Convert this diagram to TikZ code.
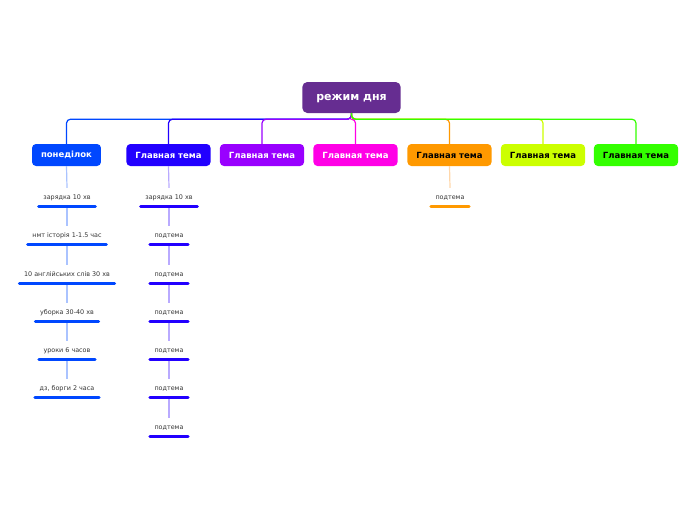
\documentclass[tikz,border=0pt]{standalone}
\usepackage{fontspec}
\setmainfont{DejaVu Sans}
\definecolor{rootcol}{RGB}{102,45,145}
\definecolor{cone}{RGB}{0,71,255}
\definecolor{ctwo}{RGB}{34,0,255}
\definecolor{cthree}{RGB}{153,0,255}
\definecolor{cfour}{RGB}{255,0,230}
\definecolor{cfive}{RGB}{255,153,0}
\definecolor{csix}{RGB}{204,255,0}
\definecolor{cseven}{RGB}{51,255,0}
\definecolor{lone}{RGB}{170,195,255}
\definecolor{ltwo}{RGB}{185,170,255}
\definecolor{lfive}{RGB}{255,215,170}
\begin{document}
\begin{tikzpicture}[x=1pt, y=-1pt,
    topic/.style={rounded corners=4pt, minimum height=22pt, inner xsep=9pt, font=\bfseries\fontsize{8.5}{10}\selectfont},
    sub/.style={minimum height=18pt, inner xsep=6pt, inner ysep=0pt, text height=5pt, text depth=0pt,
                font=\fontsize{6.4}{7}\selectfont, text=black!80},
    link/.style={line width=1.2pt, rounded corners=4pt},
    stem/.style={line width=1.2pt},
    bar/.style={line width=3pt, line cap=round}]
    \useasboundingbox (0,0) rectangle (696,520);

    % Central topic
    \node[fill=rootcol, text=white, rounded corners=5pt, minimum height=31pt, inner xsep=14pt,
          text height=5.5pt, text depth=0pt,
          font=\bfseries\fontsize{11}{13}\selectfont] (root) at (351.5,97.5) {режим дня};

    % Main topics
    \node[topic, fill=cone, text=white] (t1) at (66.5,155) {понеділок};
    \node[topic, fill=ctwo, text=white] (t2) at (168.5,155) {Главная тема};
    \node[topic, fill=cthree, text=white] (t3) at (262,155) {Главная тема};
    \node[topic, fill=cfour, text=white] (t4) at (355.5,155) {Главная тема};
    \node[topic, fill=cfive, text=black] (t5) at (449.5,155) {Главная тема};
    \node[topic, fill=csix, text=black] (t6) at (543,155) {Главная тема};
    \node[topic, fill=cseven, text=black] (t7) at (636,155) {Главная тема};

    % Connectors from the central topic
    \draw[link, cone] (root.south) -- ++(0,6) -| (t1.north);
    \draw[link, ctwo] (root.south) -- ++(0,6) -| (t2.north);
    \draw[link, cthree] (root.south) -- ++(0,6) -| (t3.north);
    \draw[link, cfour] (root.south) -- ++(0,6) -| (t4.north);
    \draw[link, cfive] (root.south) -- ++(0,6) -| (t5.north);
    \draw[link, csix] (root.south) -- ++(0,6) -| (t6.north);
    \draw[link, cseven] (root.south) -- ++(0,6) -| (t7.north);

    % Subtopics of понеділок
    \node[sub] (s11) at (67,197) {зарядка 10 хв};
    \node[sub] (s12) at (67,235) {нмт історія 1-1.5 час};
    \node[sub] (s13) at (67,274) {10 англійських слів 30 хв};
    \node[sub] (s14) at (67,312) {уборка 30-40 хв};
    \node[sub] (s15) at (67,350) {уроки 6 часов};
    \node[sub] (s16) at (67,388) {дз, борги 2 часа};

    \draw[stem, lone] (t1.south) -- (s11.north);
    \draw[stem, lone] (s11.south) -- (s12.north);
    \draw[stem, lone] (s12.south) -- (s13.north);
    \draw[stem, lone] (s13.south) -- (s14.north);
    \draw[stem, lone] (s14.south) -- (s15.north);
    \draw[stem, lone] (s15.south) -- (s16.north);

    \draw[bar, cone] ([xshift=1.5pt]s11.south west) -- ([xshift=-1.5pt]s11.south east);
    \draw[bar, cone] ([xshift=1.5pt]s12.south west) -- ([xshift=-1.5pt]s12.south east);
    \draw[bar, cone] ([xshift=1.5pt]s13.south west) -- ([xshift=-1.5pt]s13.south east);
    \draw[bar, cone] ([xshift=1.5pt]s14.south west) -- ([xshift=-1.5pt]s14.south east);
    \draw[bar, cone] ([xshift=1.5pt]s15.south west) -- ([xshift=-1.5pt]s15.south east);
    \draw[bar, cone] ([xshift=1.5pt]s16.south west) -- ([xshift=-1.5pt]s16.south east);

    % Subtopics of the second topic
    \node[sub] (s21) at (169,197) {зарядка 10 хв};
    \node[sub] (s22) at (169,235) {подтема};
    \node[sub] (s23) at (169,274) {подтема};
    \node[sub] (s24) at (169,312) {подтема};
    \node[sub] (s25) at (169,350) {подтема};
    \node[sub] (s26) at (169,388) {подтема};
    \node[sub] (s27) at (169,427) {подтема};

    \draw[stem, ltwo] (t2.south) -- (s21.north);
    \draw[stem, ltwo] (s21.south) -- (s22.north);
    \draw[stem, ltwo] (s22.south) -- (s23.north);
    \draw[stem, ltwo] (s23.south) -- (s24.north);
    \draw[stem, ltwo] (s24.south) -- (s25.north);
    \draw[stem, ltwo] (s25.south) -- (s26.north);
    \draw[stem, ltwo] (s26.south) -- (s27.north);

    \draw[bar, ctwo] ([xshift=1.5pt]s21.south west) -- ([xshift=-1.5pt]s21.south east);
    \draw[bar, ctwo] ([xshift=1.5pt]s22.south west) -- ([xshift=-1.5pt]s22.south east);
    \draw[bar, ctwo] ([xshift=1.5pt]s23.south west) -- ([xshift=-1.5pt]s23.south east);
    \draw[bar, ctwo] ([xshift=1.5pt]s24.south west) -- ([xshift=-1.5pt]s24.south east);
    \draw[bar, ctwo] ([xshift=1.5pt]s25.south west) -- ([xshift=-1.5pt]s25.south east);
    \draw[bar, ctwo] ([xshift=1.5pt]s26.south west) -- ([xshift=-1.5pt]s26.south east);
    \draw[bar, ctwo] ([xshift=1.5pt]s27.south west) -- ([xshift=-1.5pt]s27.south east);

    % Subtopic of the fifth topic
    \node[sub] (s51) at (450,197) {подтема};
    \draw[stem, lfive] (t5.south) -- (s51.north);
    \draw[bar, cfive] ([xshift=1.5pt]s51.south west) -- ([xshift=-1.5pt]s51.south east);
\end{tikzpicture}
\end{document}
